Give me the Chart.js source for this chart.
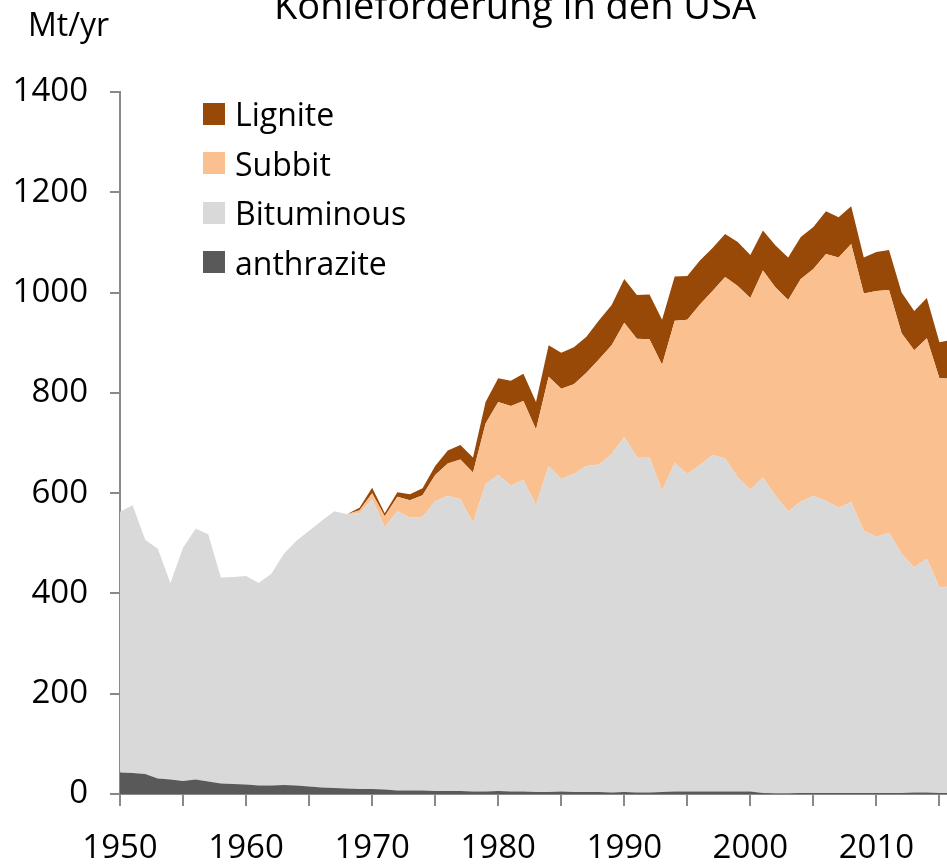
<!DOCTYPE html>
<html>
<head>
<meta charset="utf-8">
<script src="https://cdn.jsdelivr.net/npm/chart.js@4.4.1/dist/chart.umd.min.js"></script>
<style>
  body { margin: 0; background: #fff; overflow: hidden; }
  #wrap { position: relative; width: 947px; height: 866px; overflow: hidden; font-family: 'Open Sans', sans-serif; color: #000; }
  #chart { position: absolute; left: 0; top: 0; }
  .title { position: absolute; left: 0; width: 1030px; top: -15px; text-align: center; font-size: 38px; line-height: 38px; white-space: nowrap; }
  .unit { position: absolute; left: 28px; top: 8px; font-size: 32px; line-height: 32px; }
  .legend { position: absolute; left: 203px; top: 89px; font-size: 32px; }
  .legend div { height: 49.5px; display: flex; align-items: center; }
  .legend span.box { display: inline-block; width: 22px; height: 22px; margin-right: 10px; }
</style>
</head>
<body>
<div id="wrap">
  <canvas id="chart" width="947" height="866"></canvas>
  <div class="title">Kohleförderung in den USA</div>
  <div class="unit">Mt/yr</div>
  <div class="legend" id="legend"></div>
</div>
<script>
var years = [];
for (var yr = 1950; yr <= 2016; yr++) years.push(yr);

// Mt per year
var anthrazite = [43, 42, 40, 31, 29, 26, 29, 25, 21, 20,
  19, 17, 17, 18, 17, 15, 13, 12, 11, 10,
  10, 9, 7, 7, 7, 6, 6, 6, 5, 5,
  6, 5, 5, 4, 4, 5, 4, 4, 4, 3,
  4, 3, 3, 4, 5, 5, 5, 5, 5, 5,
  5, 2, 1, 1, 2, 2, 2, 2, 2, 2,
  2, 2, 2, 3, 3, 2, 2];

var bituminous = [520, 534, 467, 458, 392, 465, 500, 493, 411, 413,
  416, 404, 422, 461, 488, 510, 532, 552, 547, 550,
  578, 523, 557, 544, 546, 578, 589, 582, 536, 613,
  630, 610, 621, 572, 650, 623, 634, 650, 653, 675,
  708, 669, 669, 601, 655, 633, 651, 671, 664, 626,
  602, 629, 594, 563, 581, 593, 583, 569, 580, 523,
  511, 519, 477, 449, 466, 410, 412];

var subbit = [0, 0, 0, 0, 0, 0, 0, 0, 0, 0,
  0, 0, 0, 0, 0, 0, 0, 0, 0, 6,
  12, 22, 29, 35, 43, 52, 64, 79, 100, 121,
  146, 159, 158, 151, 178, 180, 179, 186, 210, 217,
  228, 236, 235, 251, 284, 308, 320, 327, 362, 382,
  382, 413, 415, 421, 444, 452, 492, 499, 515, 473,
  490, 484, 440, 433, 440, 417, 414];

var lignite = [0, 0, 0, 0, 0, 0, 0, 0, 0, 0,
  0, 0, 0, 0, 0, 0, 0, 0, 0, 5,
  11, 6, 9, 12, 14, 18, 26, 29, 30, 43,
  47, 50, 54, 55, 63, 72, 74, 72, 78, 80,
  87, 87, 89, 90, 88, 87, 88, 86, 86, 88,
  86, 80, 84, 85, 84, 84, 85, 80, 75, 72,
  78, 80, 81, 78, 80, 72, 78];

var yTicks = [0, 200, 400, 600, 800, 1000, 1200, 1400];

var series = [
  { label: 'anthrazite', data: anthrazite, color: '#595959' },
  { label: 'Bituminous', data: bituminous, color: '#d9d9d9' },
  { label: 'Subbit', data: subbit, color: '#fac090' },
  { label: 'Lignite', data: lignite, color: '#984807' }
];

function points(values) {
  return values.map(function(v, i) { return { x: years[i], y: v }; });
}

var datasets = series.map(function(s, i) {
  return {
    label: s.label,
    data: points(s.data),
    backgroundColor: s.color,
    borderColor: s.color,
    borderWidth: 0,
    pointRadius: 0,
    tension: 0,
    fill: i === 0 ? 'origin' : '-1'
  };
});

// legend, top entry first
var legendEl = document.getElementById('legend');
series.slice().reverse().forEach(function(s) {
  var row = document.createElement('div');
  row.innerHTML = '<span class="box" style="background:' + s.color + '"></span>' + s.label;
  legendEl.appendChild(row);
});

Chart.defaults.font.family = "'Open Sans', sans-serif";
Chart.defaults.font.size = 33;
Chart.defaults.color = '#000';

var axisColor = '#898989';

new Chart(document.getElementById('chart'), {
  type: 'line',
  data: { datasets: datasets },
  options: {
    responsive: false,
    animation: false,
    layout: { padding: { top: 92, right: 0, left: 0, bottom: 0 } },
    plugins: { legend: { display: false }, tooltip: { enabled: false } },
    scales: {
      x: {
        type: 'linear',
        min: 1950,
        max: 2015.6,
        border: { display: true, color: axisColor, width: 2 },
        grid: { drawOnChartArea: false, drawTicks: true, tickLength: 12, color: axisColor, lineWidth: 2 },
        ticks: {
          stepSize: 5,
          includeBounds: false,
          maxRotation: 0,
          autoSkip: false,
          padding: 23,
          callback: function(v) { return v % 10 === 0 ? String(v) : ''; }
        },
        afterFit: function(scale) {
          scale.height = 72;
          scale.paddingRight = 0;
          scale.paddingLeft = 0;
        }
      },
      y: {
        stacked: true,
        min: 0,
        max: 1400,
        border: { display: true, color: axisColor, width: 2 },
        grid: { drawOnChartArea: false, drawTicks: true, tickLength: 10, color: axisColor, lineWidth: 2 },
        afterBuildTicks: function(scale) {
          scale.ticks = yTicks.map(function(v) { return { value: v }; });
        },
        ticks: { padding: 22, callback: function(v) { return String(v); } },
        afterFit: function(scale) { scale.width = 120; }
      }
    }
  }
});
</script>
</body>
</html>
